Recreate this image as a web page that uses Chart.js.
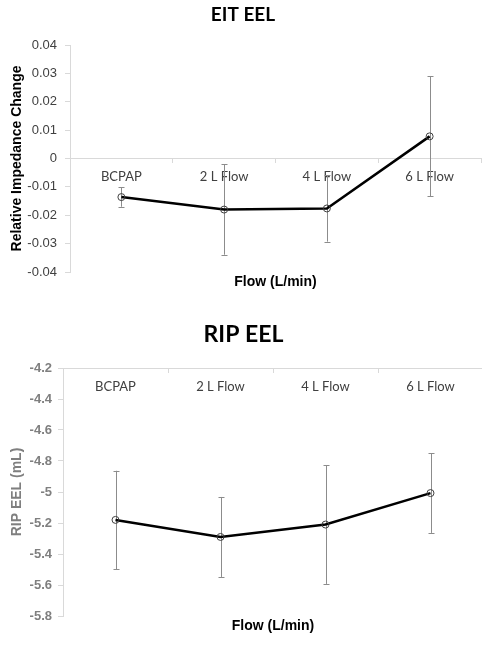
<!DOCTYPE html>
<html>
<head>
<meta charset="utf-8">
<script src="https://cdn.jsdelivr.net/npm/chart.js@4.4.0/dist/chart.umd.min.js"></script>
<style>
  html, body { margin: 0; padding: 0; background: #fff; overflow: hidden; width: 482px; height: 645px; }
  .box { position: absolute; left: 0; }
</style>
</head>
<body>
<div class="box" style="top:0"><canvas id="eitChart" width="486" height="300"></canvas></div>
<div class="box" style="top:320px"><canvas id="ripChart" width="488" height="325"></canvas></div>
<script>
// categories and values
const flows = ['BCPAP', '2 L Flow', '4 L Flow', '6 L Flow'];

const eitMean = [-0.0136, -0.0180, -0.0176, 0.0078];
const eitErr = [0.0034, 0.0159, 0.0117, 0.0211];
const eitTicks = [-0.04, -0.03, -0.02, -0.01, 0, 0.01, 0.02, 0.03, 0.04];

const ripMean = [-5.18, -5.29, -5.21, -5.007];
const ripErr = [0.317, 0.258, 0.383, 0.257];
const ripTicks = [-5.8, -5.6, -5.4, -5.2, -5, -4.8, -4.6, -4.4, -4.2];

const axisGray = '#d9d9d9';

// error bars drawn under the line
const errorBars = {
    id: 'errorBars',
    beforeDatasetsDraw(chart, args, opts) {
        const ctx = chart.ctx;
        const y = chart.scales.y;
        const meta = chart.getDatasetMeta(0);
        ctx.save();
        ctx.strokeStyle = '#8c8c8c';
        ctx.lineWidth = 1;
        meta.data.forEach((pt, i) => {
            const v = chart.data.datasets[0].data[i];
            const e = opts.errors[i];
            const x = Math.round(pt.x) + 0.5;
            const top = y.getPixelForValue(v + e);
            const bot = y.getPixelForValue(v - e);
            ctx.beginPath();
            ctx.moveTo(x, top); ctx.lineTo(x, bot);
            ctx.moveTo(x - 3, Math.round(top) + 0.5); ctx.lineTo(x + 3, Math.round(top) + 0.5);
            ctx.moveTo(x - 3, Math.round(bot) + 0.5); ctx.lineTo(x + 3, Math.round(bot) + 0.5);
            ctx.stroke();
        });
        ctx.restore();
    }
};

function makeChart(id, cfg) {
    const ctx = document.getElementById(id).getContext('2d');
    return new Chart(ctx, {
        type: 'line',
        data: {
            labels: flows,
            datasets: [{
                data: cfg.values,
                borderColor: '#000',
                borderWidth: 2.5,
                tension: 0,
                pointRadius: 3.5,
                pointBorderWidth: 1,
                pointBorderColor: '#404040',
                pointBackgroundColor: 'rgba(0,0,0,0)'
            }]
        },
        options: {
            responsive: false,
            animation: false,
            layout: { padding: { left: 0, right: cfg.padRight, top: 0, bottom: 0 } },
            plugins: {
                legend: { display: false },
                tooltip: { enabled: false },
                title: {
                    display: true,
                    text: cfg.title,
                    color: '#000',
                    font: { family: 'Lato', size: cfg.titleSize, weight: 'bold', lineHeight: 1.2 },
                    padding: cfg.titlePad
                },
                errorBars: { errors: cfg.errors }
            },
            scales: {
                x: {
                    type: 'category',
                    position: { y: cfg.crossAt },
                    offset: true,
                    border: { display: true, color: axisGray },
                    grid: { offset: true, drawOnChartArea: false, drawTicks: true, tickLength: 4, color: axisGray },
                    ticks: { color: '#404040', padding: 7, maxRotation: 0, font: { family: 'Lato', size: 13 } }
                },
                x2: {
                    type: 'category',
                    position: 'bottom',
                    offset: true,
                    border: { display: false },
                    grid: { display: false, drawTicks: false },
                    ticks: { display: false },
                    title: {
                        display: true,
                        text: 'Flow (L/min)',
                        color: '#000',
                        font: { family: 'Liberation Sans', size: 14, weight: 'bold', lineHeight: 1.2 },
                        padding: cfg.xTitlePad
                    }
                },
                y: {
                    min: cfg.ticks[0],
                    max: cfg.ticks[cfg.ticks.length - 1],
                    afterBuildTicks: s => { s.ticks = cfg.ticks.map(v => ({ value: v })); },
                    afterFit: s => { s.width = cfg.yWidth; },
                    border: { display: true, color: axisGray },
                    grid: { drawOnChartArea: false, drawTicks: true, tickLength: 5, color: axisGray },
                    ticks: {
                        color: cfg.tickColor,
                        padding: cfg.tickPad,
                        font: { family: 'Liberation Sans', size: 13, weight: cfg.tickWeight },
                        callback: v => String(v)
                    },
                    title: {
                        display: true,
                        text: cfg.yTitle,
                        color: cfg.yTitleColor,
                        font: { family: 'Liberation Sans', size: 14, weight: 'bold', lineHeight: 1.2 },
                        padding: { top: 8.6, bottom: 0 }
                    }
                }
            }
        },
        plugins: [errorBars]
    });
}

makeChart('eitChart', {
    values: eitMean, errors: eitErr, ticks: eitTicks, crossAt: 0,
    title: 'EIT EEL', titleSize: 19, titlePad: { top: 3.6, bottom: 18.6 },
    xTitlePad: { top: 1.6, bottom: 9.6 },
    yWidth: 70, tickPad: 8, tickColor: '#404040', tickWeight: 'normal',
    yTitle: 'Relative Impedance Change', yTitleColor: '#000', padRight: 0
});

makeChart('ripChart', {
    values: ripMean, errors: ripErr, ticks: ripTicks, crossAt: -4.2,
    title: 'RIP EEL', titleSize: 23, titlePad: { top: 1.2, bottom: 19.2 },
    xTitlePad: { top: 1.6, bottom: 10.6 },
    yWidth: 63, tickPad: 6, tickColor: '#7f7f7f', tickWeight: 'bold',
    yTitle: 'RIP EEL (mL)', yTitleColor: '#7f7f7f', padRight: 1
});
</script>
</body>
</html>
